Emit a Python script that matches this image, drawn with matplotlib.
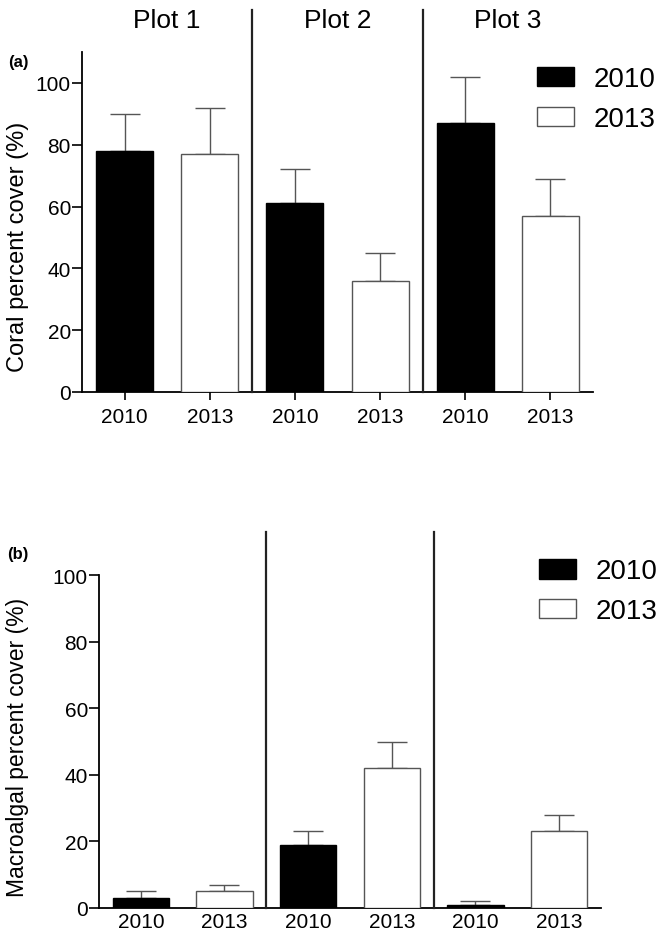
import matplotlib
matplotlib.use("Agg")
import matplotlib.pyplot as plt
import numpy as np

plt.rcParams["font.family"] = ["Liberation Sans", "DejaVu Sans"]

# ── Data ──────────────────────────────────────────────────────────────────────
years = ["2010", "2013"]
plots = ["Plot 1", "Plot 2", "Plot 3"]
tick_labels = ["2010", "2013", "2010", "2013", "2010", "2013"]

coral_mean = [78, 77, 61, 36, 87, 57]
coral_upper = [90, 92, 72, 45, 102, 69]

algae_mean = [3, 5, 19, 42, 1, 23]
algae_upper = [5, 7, 23, 50, 2, 28]

bar_colors = ["black", "white"] * 3
edge_colors = ["black", "#555555"] * 3

W, H = 664, 937
fig = plt.figure(figsize=(W / 100, H / 100), dpi=100)


def px_axes(left, top, right, bottom):
    return fig.add_axes([left / W, 1 - bottom / H, (right - left) / W, (bottom - top) / H])


def draw_panel(ax, means, upper, ymax, div_top, show_xticks, leg_anchor):
    x = np.arange(len(means))
    bars = ax.bar(x, means, width=0.67, color=bar_colors, edgecolor=edge_colors,
                  linewidth=1.0, zorder=3)
    err = np.array(upper) - np.array(means)
    ax.errorbar(x, means, yerr=[np.zeros_like(err), err], fmt="none",
                ecolor="#555555", elinewidth=1.0, capsize=10.5, capthick=1.0, zorder=2)
    # dividers between plots, running above the axes
    for d in (1.5, 3.5):
        ax.plot([d, d], [0, div_top], color="#222222", lw=1.6, clip_on=False, zorder=4)

    ax.set_xlim(-0.5, 5.5)
    ax.set_ylim(0, ymax)
    ax.set_yticks([0, 20, 40, 60, 80, 100])
    ax.set_xticks(x)
    ax.set_xticklabels(tick_labels, fontsize=15)
    ax.tick_params(axis="y", labelsize=15, length=7, width=1.2, pad=1)
    if show_xticks:
        ax.tick_params(axis="x", length=6, width=1.2, pad=5)
    else:
        ax.tick_params(axis="x", length=0, pad=3)
    for s in ("top", "right"):
        ax.spines[s].set_visible(False)
    for s in ("left", "bottom"):
        ax.spines[s].set_linewidth(1.3)

    ax.legend([bars[0], bars[1]], years, loc="upper left", bbox_to_anchor=leg_anchor,
              frameon=False, fontsize=20, handlelength=1.33, handleheight=0.72,
              handletextpad=0.7, labelspacing=0.5, borderpad=0, borderaxespad=0)


# ── (a) Coral ─────────────────────────────────────────────────────────────────
ax1 = px_axes(82, 53, 593, 393)
draw_panel(ax1, coral_mean, coral_upper, 110, 123.5, True, (0.89, 0.958))
for i, name in enumerate(plots):
    ax1.text(2 * i + 0.5, 118, name, ha="center", va="baseline", fontsize=19)

fig.text(18 / W, 1 - 63 / H, "(a)", ha="center", va="center", fontsize=12, fontweight="bold")
fig.text(18 / W, 1 - 247 / H, "Coral percent cover (%)", rotation=90,
         ha="center", va="center", fontsize=17)

# ── (b) Macroalgae ───────────────────────────────────────────────────────────
ax2 = px_axes(99, 576, 601, 909)
draw_panel(ax2, algae_mean, algae_upper, 100, 113, False, (0.876, 1.05))

fig.text(18 / W, 1 - 554 / H, "(b)", ha="center", va="center", fontsize=12, fontweight="bold")
fig.text(18 / W, 1 - 747 / H, "Macroalgal percent cover (%)", rotation=90,
         ha="center", va="center", fontsize=16.5)

fig.savefig("out.png", dpi=100)
